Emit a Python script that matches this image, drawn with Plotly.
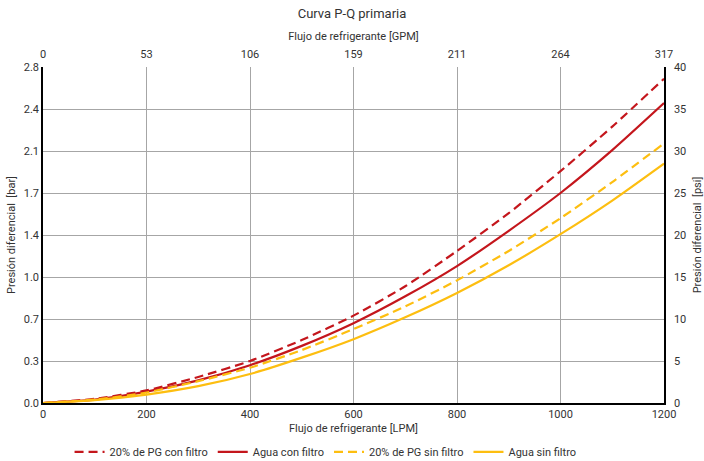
import plotly.graph_objects as go

# Flow in LPM
flow_lpm = [0, 100, 200, 300, 400, 500, 600, 700, 800, 900, 1000, 1100, 1200]
# Pressure drop in psi
pg_con = [0, 0.5, 1.5, 3.1, 5.0, 7.5, 10.4, 13.9, 18.1, 22.6, 27.6, 32.9, 38.6]
agua_con = [0, 0.4, 1.35, 2.7, 4.5, 6.8, 9.5, 12.7, 16.3, 20.5, 25.0, 30.1, 35.7]
pg_sin = [0, 0.4, 1.25, 2.6, 4.2, 6.3, 8.8, 11.5, 14.6, 18.1, 22.0, 26.3, 30.9]
agua_sin = [0, 0.35, 1.0, 2.0, 3.45, 5.4, 7.6, 10.2, 13.1, 16.4, 20.1, 24.1, 28.5]

x_ticks = [0, 200, 400, 600, 800, 1000, 1200]
gpm_labels = ["0", "53", "106", "159", "211", "264", "317"]
psi_ticks = [0, 5, 10, 15, 20, 25, 30, 35, 40]
bar_labels = ["0.0", "0.3", "0.7", "1.0", "1.4", "1.7", "2.1", "2.4", "2.8"]

RED = "#C4161C"
YEL = "#FDBE10"
FONT = "Roboto"
TXT = "#333333"
GRID = "#a6a6a6"

fig = go.Figure()
series = [
    ("20% de PG con filtro", pg_con, RED, "9px,5px"),
    ("Agua con filtro", agua_con, RED, "solid"),
    ("20% de PG sin filtro", pg_sin, YEL, "9px,5px"),
    ("Agua sin filtro", agua_sin, YEL, "solid"),
]
for name, vals, col, dash in series:
    fig.add_trace(go.Scatter(
        x=flow_lpm, y=vals, name=name, mode="lines",
        line=dict(color=col, width=2.2, dash=dash, shape="spline", smoothing=0.6),
    ))

fig.update_layout(
    width=704, height=461,
    margin=dict(l=43, r=40, t=67, b=58, autoexpand=False),
    paper_bgcolor="white", plot_bgcolor="white",
    font=dict(family=FONT, size=11, color=TXT),
    title=dict(text="Curva P-Q primaria", x=0.5, xanchor="center", y=0.97, yanchor="middle",
               font=dict(size=13, color=TXT)),
    xaxis=dict(range=[0, 1200], tickvals=x_ticks, showgrid=True, gridcolor=GRID, gridwidth=1,
               showline=True, linecolor="black", linewidth=1.5, zeroline=False, ticks="",
               automargin=False,
               title=dict(text="Flujo de refrigerante [LPM]", standoff=4, font=dict(size=11)),
               tickfont=dict(size=11)),
    xaxis2=dict(range=[0, 1200], tickvals=x_ticks, ticktext=gpm_labels, overlaying="x", side="top",
                showgrid=False, showline=False, zeroline=False, ticks="", automargin=False,
                ticklabelstandoff=6,
                title=dict(text="Flujo de refrigerante [GPM]", standoff=4, font=dict(size=11)),
                tickfont=dict(size=11)),
    yaxis=dict(range=[0, 40], tickvals=psi_ticks, ticktext=bar_labels, showgrid=True, gridcolor=GRID,
               gridwidth=1, showline=True, linecolor="black", linewidth=1.5, zeroline=False,
               ticks="", automargin=False, ticklabelstandoff=0,
               title=dict(text="Presión diferencial  [bar]", standoff=6, font=dict(size=11)),
               tickfont=dict(size=11)),
    yaxis2=dict(range=[0, 40], tickvals=psi_ticks, overlaying="y", side="right",
                showgrid=False, showline=True, linecolor="black", linewidth=1.5, zeroline=False,
                ticks="", automargin=False, ticklabelstandoff=6,
                title=dict(text="Presión diferencial  [psi]", standoff=10, font=dict(size=11)),
                tickfont=dict(size=11)),
    legend=dict(orientation="h", x=0.455, xanchor="center", yref="container", y=0.02,
                yanchor="middle", font=dict(size=11), itemwidth=30, tracegroupgap=0),
    showlegend=True,
)
# invisible trace so that overlay axes are drawn
fig.add_trace(go.Scatter(x=[flow_lpm[0]], y=[agua_con[0]], xaxis="x2", yaxis="y2",
                         mode="markers", marker=dict(opacity=0), showlegend=False, hoverinfo="skip"))

fig.write_html("out.html", config={"displayModeBar": False},
               post_script="document.body.style.margin='0';document.body.style.overflow='hidden';")
